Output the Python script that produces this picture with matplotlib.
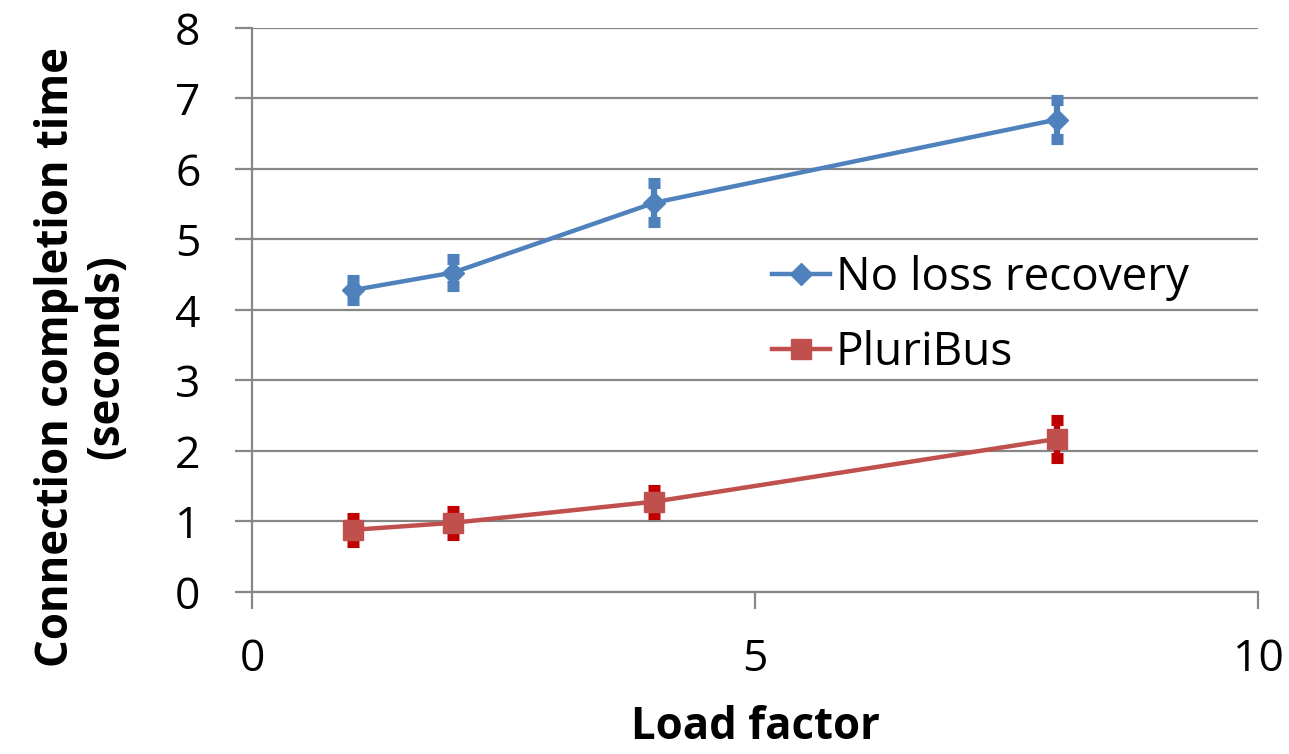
import matplotlib.pyplot as plt
from matplotlib.lines import Line2D

plt.rcParams['font.family'] = ['Open Sans', 'DejaVu Sans']

load = [1, 2, 4, 8]
no_loss = [4.28, 4.53, 5.52, 6.70]
no_loss_err = [0.14, 0.19, 0.28, 0.28]
pluribus = [0.88, 0.98, 1.28, 2.17]
pluribus_err = [0.17, 0.17, 0.17, 0.27]

blue = '#4F81BD'
red = '#C0504D'

fig = plt.figure(figsize=(12.89, 7.54), dpi=100)
ax = fig.add_axes([0.1955, 0.215, 0.7805, 0.748])

ax.errorbar(load, no_loss, yerr=no_loss_err, color=blue, ecolor=blue,
            elinewidth=4.5, capsize=4.5, capthick=8, lw=3.2, marker='D', markersize=11,
            zorder=3)
ax.errorbar(load, pluribus, yerr=pluribus_err, color=red, ecolor='#C00000',
            elinewidth=4.5, capsize=4.5, capthick=8, lw=3.2, marker='s', markersize=15,
            zorder=3)

ax.set_xlim(0, 10)
ax.set_ylim(0, 8)
ax.set_xticks([0, 5, 10])
ax.set_yticks(range(9))
ax.yaxis.grid(True, color='#878787', lw=1.6)
ax.set_axisbelow(True)
for s in ['top', 'right']:
    ax.spines[s].set_visible(False)
for s in ['left', 'bottom']:
    ax.spines[s].set_color('#878787')
    ax.spines[s].set_linewidth(1.6)
ax.tick_params(direction='out', length=12, width=1.6, color='#878787', labelsize=32)
ax.tick_params(axis='y', pad=25)
ax.tick_params(axis='x', pad=21)

ax.set_xlabel('Load factor', fontsize=31.5, fontweight='bold')
ax.xaxis.set_label_coords(0.5, -0.2)
ax.set_ylabel('Connection completion time\n(seconds)', fontsize=31.5, fontweight='bold',
              linespacing=1.15)
ax.yaxis.set_label_coords(-0.122, 0.417)

handles = [Line2D([], [], color=blue, lw=3.2, marker='D', markersize=11),
           Line2D([], [], color=red, lw=3.2, marker='s', markersize=15)]
ax.legend(handles, ['No loss recovery', 'PluriBus'], loc='center left',
          bbox_to_anchor=(0.517, 0.49), frameon=False, fontsize=33,
          handlelength=1.27, handletextpad=0.12, labelspacing=0.62,
          borderpad=0, borderaxespad=0)

fig.savefig('out.png', dpi=100)
